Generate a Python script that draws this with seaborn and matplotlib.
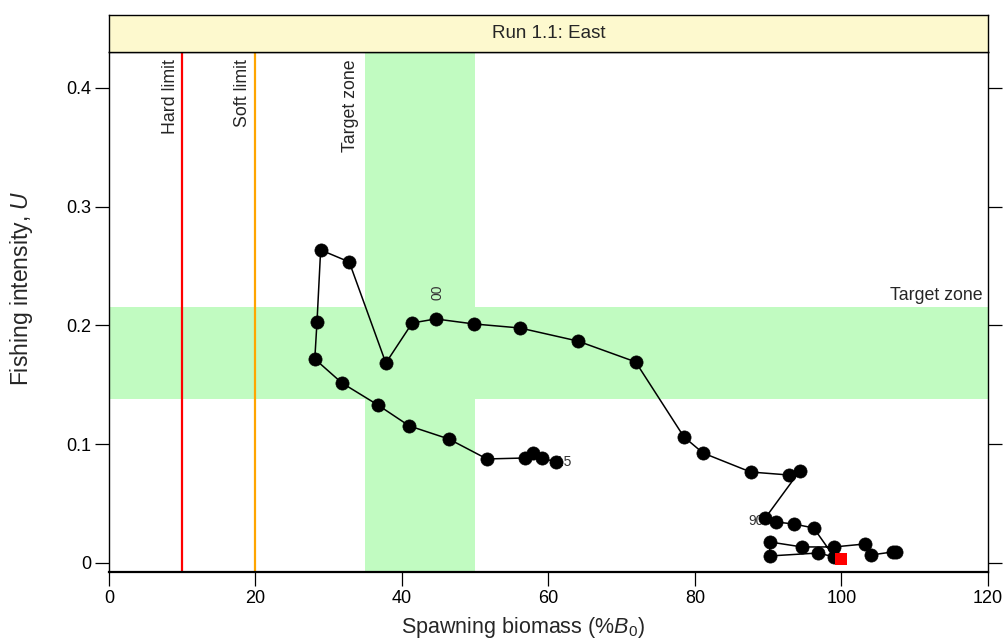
import numpy as np
import pandas as pd
import seaborn as sns
import matplotlib.pyplot as plt

# snail trail: spawning biomass (% of B0) vs fishing intensity U, 1977-2015
years = list(range(1977, 2016))
biomass = [107.5, 107.0, 104.0, 103.2, 99.0, 94.6, 90.2, 90.2, 96.8, 99.0,
           96.2, 93.5, 91.1,
           89.6, 94.3, 92.8, 87.6, 81.1, 78.5, 71.9, 64.0, 56.1, 49.8,
           44.6, 41.4, 37.8, 32.8, 28.9, 28.4, 28.1, 31.8, 36.7, 41.0,
           46.4, 51.6, 56.8, 57.9, 59.1, 61.0]
harvest = [0.0090, 0.0093, 0.0067, 0.0160, 0.0135, 0.0135, 0.0177, 0.0059, 0.0084, 0.0051,
           0.0295, 0.0328, 0.0345,
           0.0379, 0.0775, 0.0741, 0.0766, 0.0926, 0.1061, 0.1693, 0.1869, 0.1979, 0.2013,
           0.2055, 0.2021, 0.1684, 0.2535, 0.2636, 0.2029, 0.1718, 0.1516, 0.1331, 0.1154,
           0.1044, 0.0876, 0.0884, 0.0926, 0.0884, 0.0851]

start_B = [99.9]
start_U = [0.0034]

hard_limit = 10
soft_limit = 20
target_B = [35, 50]
target_U = [0.138, 0.2155]

label_years = {1990: '90', 2000: '00', 2015: '15'}

df = pd.DataFrame({'year': years, 'B': biomass, 'U': harvest})

sns.set_theme(style='white')
plt.rcParams['font.family'] = ['Liberation Sans', 'DejaVu Sans']
plt.rcParams['mathtext.fontset'] = 'custom'
plt.rcParams['mathtext.rm'] = 'Liberation Sans'
plt.rcParams['mathtext.it'] = 'Liberation Sans:italic'

fig = plt.figure(figsize=(10.06, 6.4), dpi=100)
ax = fig.add_axes([0.1083, 0.10625, 0.8738, 0.8125])

green = '#C1FBC1'
ax.axvspan(target_B[0], target_B[1], color=green, lw=0, zorder=0)
ax.axhspan(target_U[0], target_U[1], color=green, lw=0, zorder=0)
ax.axvline(hard_limit, color='red', lw=1.6, zorder=1)
ax.axvline(soft_limit, color='orange', lw=1.6, zorder=1)

ax.text(hard_limit - 0.5, 0.4244, 'Hard limit', rotation=90, ha='right', va='top', fontsize=12.8)
ax.text(soft_limit - 0.6, 0.4244, 'Soft limit', rotation=90, ha='right', va='top', fontsize=12.8)
ax.text(target_B[0] - 0.9, 0.4244, 'Target zone', rotation=90, ha='right', va='top', fontsize=12.8)
ax.text(119.3, 0.2215, 'Target zone', ha='right', va='baseline', fontsize=12.8)

# year labels
for yr, lab in label_years.items():
    row = df[df.year == yr].iloc[0]
    if lab == '00':
        ax.annotate(lab, (row.B, row.U), xytext=(1, 14), textcoords='offset points',
                    rotation=90, ha='center', va='bottom', fontsize=10, color='#333333')
    elif lab == '90':
        ax.annotate(lab, (row.B, row.U), xytext=(-1, -2), textcoords='offset points',
                    ha='right', va='center', fontsize=10, color='#333333')
    else:
        ax.annotate(lab, (row.B, row.U), xytext=(0, 0), textcoords='offset points',
                    ha='left', va='center', fontsize=10, color='#333333')

sns.lineplot(data=df, x='B', y='U', sort=False, estimator=None, color='black',
             lw=1.1, ax=ax, zorder=3)
sns.scatterplot(data=df, x='B', y='U', color='black', s=90, edgecolor='black',
                linewidth=0.5, ax=ax, zorder=4)
ax.scatter(start_B, start_U, marker='s', s=75, color='red', zorder=5, linewidths=0)

ax.set_xlim(0, 120)
ax.set_ylim(-0.0076, 0.4303)
ax.set_xticks([0, 20, 40, 60, 80, 100, 120])
ax.set_yticks([0, 0.1, 0.2, 0.3, 0.4])
ax.set_yticklabels(['0', '0.1', '0.2', '0.3', '0.4'])
ax.tick_params(direction='out', length=10, width=0.9, colors='black', labelsize=13,
               left=True, bottom=True, right=True, top=False, labelright=False, pad=3)
for sp in ax.spines.values():
    sp.set_color('black')
    sp.set_linewidth(1.0)
ax.spines['bottom'].set_linewidth(1.6)
ax.set_xlabel('')
ax.set_ylabel('')

fig.text(523 / 1006, 1 - 627 / 640, 'Spawning biomass (%$\\mathit{B}_{\\mathrm{0}}$)',
         ha='center', va='center', fontsize=15.5)
fig.text(22 / 1006, 1 - 288 / 640, 'Fishing intensity, $\\mathit{U}$',
         ha='center', va='center', rotation=90, fontsize=16.5)

# strip on top
strip = fig.add_axes([0.1083, 0.91875, 0.8738, 0.0578])
strip.set_facecolor('#FDF9CE')
strip.set_xticks([])
strip.set_yticks([])
for sp in strip.spines.values():
    sp.set_color('black')
    sp.set_linewidth(1.0)
strip.text(0.5, 0.5, 'Run 1.1: East', ha='center', va='center', fontsize=13.5,
           transform=strip.transAxes)

fig.savefig('out.png', dpi=100)
